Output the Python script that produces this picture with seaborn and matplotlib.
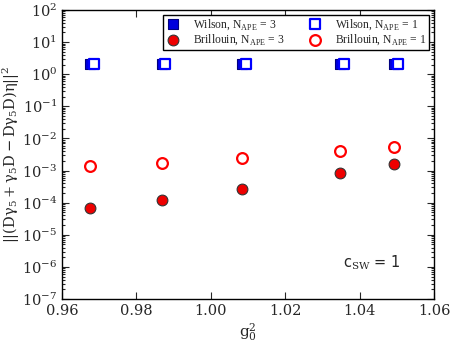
import matplotlib
matplotlib.use('Agg')
import matplotlib.pyplot as plt
import seaborn as sns
import pandas as pd
from matplotlib.ticker import LogLocator, NullFormatter, MultipleLocator

# data
g0_sq = [0.9675, 0.9868, 1.0084, 1.0347, 1.0492]
g0_sq_w1 = [0.9685, 0.9878, 1.0094, 1.0357, 1.0502]
wilson_3 = [2.05, 2.05, 2.05, 2.05, 2.05]
wilson_1 = [2.05, 2.05, 2.05, 2.05, 2.05]
brill_3 = [7.0e-5, 1.21e-4, 2.6e-4, 8.5e-4, 1.65e-3]
brill_1 = [1.36e-3, 1.74e-3, 2.5e-3, 4.0e-3, 5.6e-3]

sns.set_style('ticks')
plt.rcParams['font.family'] = ['DejaVu Serif']
plt.rcParams['mathtext.fontset'] = 'dejavuserif'
plt.rcParams['xtick.direction'] = 'in'
plt.rcParams['ytick.direction'] = 'in'

fig = plt.figure(figsize=(4.54, 3.41), dpi=100)
ax = fig.add_axes([62/454, 1-299/341, 372/454, 289/341])

df = pd.DataFrame({'g': g0_sq, 'g1': g0_sq_w1, 'w3': wilson_3, 'w1': wilson_1,
                   'b3': brill_3, 'b1': brill_1})

sns.scatterplot(data=df, x='g', y='w3', marker='s', s=55, color='#0000dd',
                edgecolor='#000080', linewidth=0.8, ax=ax,
                label=r'Wilson, N$_\mathregular{APE}$ = 3', zorder=3)
sns.scatterplot(data=df, x='g1', y='w1', marker='s', s=55, facecolor='white',
                edgecolor='#0000ff', linewidth=1.6, ax=ax,
                label=r'Wilson, N$_\mathregular{APE}$ = 1', zorder=4)
sns.scatterplot(data=df, x='g', y='b3', marker='o', s=60, color='#ee0000',
                edgecolor='#333333', linewidth=0.8, ax=ax,
                label=r'Brillouin, N$_\mathregular{APE}$ = 3', zorder=3)
sns.scatterplot(data=df, x='g', y='b1', marker='o', s=60, facecolor='white',
                edgecolor='#ff0000', linewidth=1.6, ax=ax,
                label=r'Brillouin, N$_\mathregular{APE}$ = 1', zorder=3)

ax.set_yscale('log')
ax.set_xlim(0.96, 1.06)
ax.set_ylim(1e-7, 1e2)
ax.xaxis.set_major_locator(MultipleLocator(0.02))
ax.xaxis.set_major_formatter(plt.FormatStrFormatter('%.2f'))
ax.yaxis.set_major_locator(LogLocator(base=10, numticks=20))
ax.yaxis.set_minor_locator(LogLocator(base=10, subs=range(2, 10), numticks=20))
ax.yaxis.set_minor_formatter(NullFormatter())
ax.tick_params(which='both', top=True, right=True, labelsize=10.5, width=0.8)
ax.tick_params(which='major', length=5)
ax.tick_params(which='minor', length=2.5)
for sp in ax.spines.values():
    sp.set_linewidth(1.0)
    sp.set_color('black')

ax.set_xlabel(r'$\mathrm{g}_0^2$', fontsize=11, labelpad=2)
ax.set_ylabel(r'$||(\mathrm{D}\mathrm{\gamma}_5 + \mathrm{\gamma}_5\mathrm{D} - '
              r'\mathrm{D}\mathrm{\gamma}_5\mathrm{D})\mathrm{\eta}||^2$',
              fontsize=10.5)
ax.yaxis.set_label_coords(-0.108, 0.5)

handles, labels = ax.get_legend_handles_labels()
order = [0, 2, 1, 3]
leg = ax.legend([handles[i] for i in order], [labels[i] for i in order],
                ncol=2, loc='upper right',
                prop={'family': 'Liberation Serif', 'size': 8.4},
                frameon=True, fancybox=False, edgecolor='black', framealpha=1,
                borderaxespad=0.42, handletextpad=1.0, columnspacing=1.9,
                borderpad=0.2, labelspacing=0.1, handlelength=1.4)
leg.get_frame().set_linewidth(1.0)

ax.text(0.833, 0.125, r'c$_{\mathrm{SW}}$ = 1', transform=ax.transAxes,
        ha='center', va='center', fontsize=10.5, family=['DejaVu Sans'])

fig.savefig('out.png', dpi=100)
